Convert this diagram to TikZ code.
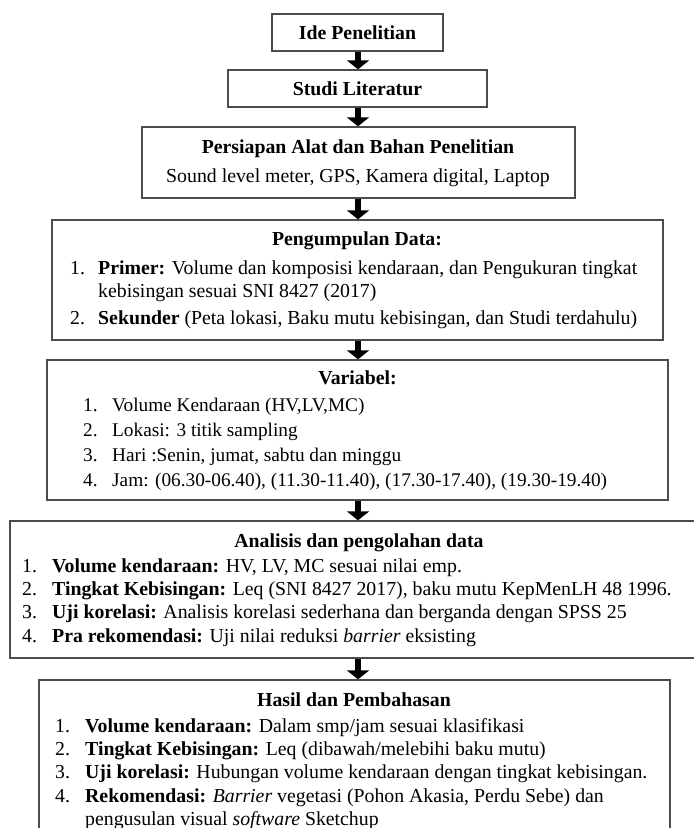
\documentclass[tikz,border=0pt]{standalone}
\usepackage{fontspec}
\setmainfont{Liberation Serif}
\usetikzlibrary{arrows.meta}
\begin{document}
\begin{tikzpicture}[x=1pt,y=-1pt,
  box/.style={draw=black!70, line width=1.3pt, rectangle, inner sep=0pt},
  base/.style={font=\fontsize{19.8}{23}\selectfont},
  txt/.style={base, anchor=base west, inner sep=0pt},
  vtxt/.style={font=\fontsize{19.3}{23}\selectfont, anchor=base west, inner sep=0pt},
  ttl/.style={font=\fontsize{19.8}{23}\selectfont\bfseries, anchor=base, inner sep=0pt},
  arr/.style={line width=6.5pt, -{Triangle[width=22pt,length=9pt]}}]
\useasboundingbox (0,0) rectangle (694,828);
\clip (0,0) rectangle (694,828);
% boxes
\node[box, minimum width=171pt, minimum height=37pt, font=\fontsize{19.8}{23}\selectfont\bfseries] (b1) at (357.5,32.5) {Ide Penelitian};
\node[box, minimum width=259pt, minimum height=37pt, font=\fontsize{19.8}{23}\selectfont\bfseries] (b2) at (357.5,88.5) {Studi Literatur};
\node[box, minimum width=433pt, minimum height=71pt] (b3) at (358.5,162.5) {};
\node[box, minimum width=611pt, minimum height=120pt] (b4) at (357.5,280) {};
\node[box, minimum width=621pt, minimum height=140pt] (b5) at (357.5,430) {};
\node[box, minimum width=686pt, minimum height=137pt] (b6) at (353,589.5) {};
\node[box, minimum width=631pt, minimum height=180pt] (b7) at (354.5,770) {};
\coordinate (ax) at (358,0);
% arrows
\draw[arr] (b1.south -| ax) -- (b2.north -| ax);
\draw[arr] (b2.south -| ax) -- (b3.north -| ax);
\draw[arr] (b3.south -| ax) -- (b4.north -| ax);
\draw[arr] (b4.south -| ax) -- (b5.north -| ax);
\draw[arr] (b5.south -| ax) -- (b6.north -| ax);
\draw[arr] (b6.south -| ax) -- (b7.north -| ax);
% box 3
\node[ttl] (t3) at (358,153) {Persiapan Alat dan Bahan Penelitian};
\node[base, anchor=base, inner sep=0pt] (s3) at (358,182) {Sound level meter, GPS, Kamera digital, Laptop};
% box 4
\node[ttl] (t4) at (357,245) {Pengumpulan Data:};
\node[txt] (n41) at (70,274) {1.};
\node[txt] (l41) at (98,274) {\textbf{Primer:} Volume dan komposisi kendaraan, dan Pengukuran tingkat};
\node[txt] (l41b) at (98,297) {kebisingan sesuai SNI 8427 (2017)};
\node[txt] (n42) at (70,324) {2.};
\node[txt] (l42) at (98,324) {\textbf{Sekunder} (Peta lokasi, Baku mutu kebisingan, dan Studi terdahulu)};
% box 5
\node[ttl] (t5) at (357.5,384) {Variabel:};
\node[vtxt] (n51) at (83,411) {1.};
\node[vtxt] (l51) at (112,411) {Volume Kendaraan (HV,LV,MC)};
\node[vtxt] (n52) at (83,436) {2.};
\node[vtxt] (l52) at (112,436) {Lokasi: 3 titik sampling};
\node[vtxt] (n53) at (83,461) {3.};
\node[vtxt] (l53) at (112,461) {Hari :Senin, jumat, sabtu dan minggu};
\node[vtxt] (n54) at (83,486) {4.};
\node[vtxt] (l54) at (112,486) {Jam: (06.30-06.40), (11.30-11.40), (17.30-17.40), (19.30-19.40)};
% box 6
\node[ttl] (t6) at (359,547) {Analisis dan pengolahan data};
\node[txt] (n61) at (22,572) {1.};
\node[txt] (l61) at (52,572) {\textbf{Volume kendaraan:} HV, LV, MC sesuai nilai emp.};
\node[txt] (n62) at (22,595) {2.};
\node[txt] (l62) at (52,595) {\textbf{Tingkat Kebisingan:} Leq (SNI 8427 2017), baku mutu KepMenLH 48 1996.};
\node[txt] (n63) at (22,618) {3.};
\node[txt] (l63) at (52,618) {\textbf{Uji korelasi:} Analisis korelasi sederhana dan berganda dengan SPSS 25};
\node[txt] (n64) at (22,642) {4.};
\node[txt] (l64) at (52,642) {\textbf{Pra rekomendasi:} Uji nilai reduksi \textit{barrier} eksisting};
% box 7
\node[ttl] (t7) at (354,706) {Hasil dan Pembahasan};
\node[txt] (n71) at (55,732) {1.};
\node[txt] (l71) at (85,732) {\textbf{Volume kendaraan:} Dalam smp/jam sesuai klasifikasi};
\node[txt] (n72) at (55,755) {2.};
\node[txt] (l72) at (85,755) {\textbf{Tingkat Kebisingan:} Leq (dibawah/melebihi baku mutu)};
\node[txt] (n73) at (55,778) {3.};
\node[txt] (l73) at (85,778) {\textbf{Uji korelasi:} Hubungan volume kendaraan dengan tingkat kebisingan.};
\node[txt] (n74) at (55,802) {4.};
\node[txt] (l74) at (85,802) {\textbf{Rekomendasi:} \textit{Barrier} vegetasi (Pohon Akasia, Perdu Sebe) dan};
\node[txt] (l74b) at (85,825) {pengusulan visual \textit{software} Sketchup};
\end{tikzpicture}
\end{document}
